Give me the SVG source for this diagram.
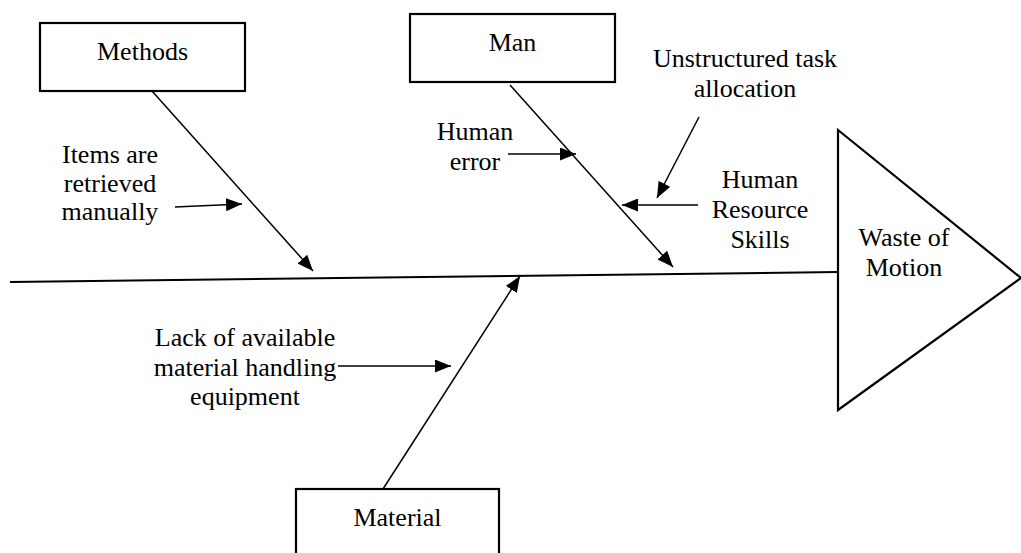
<svg xmlns="http://www.w3.org/2000/svg" width="1021" height="553" viewBox="0 0 1021 553" font-family="'Liberation Serif', Tinos, 'Times New Roman', 'DejaVu Serif', serif">
  <style>
    .box { fill: #fff; stroke: #000; stroke-width: 2.2; }
    .spine { fill: none; stroke: #000; stroke-width: 2; }
    .bone { fill: none; stroke: #000; stroke-width: 1.5; marker-end: url(#head); }
    .lbl { font-family: 'Liberation Serif', Tinos, 'Times New Roman', 'DejaVu Serif', serif; font-size: 26px; fill: #000; text-anchor: middle; }
  </style>
  <defs>
    <marker id="head" markerUnits="userSpaceOnUse" markerWidth="16" markerHeight="13" refX="16" refY="6.5" orient="auto">
      <path d="M0,0 L16,6.5 L0,13 z" fill="#000"/>
    </marker>
  </defs>

  <rect width="1021" height="553" fill="#fff"/>

  <!-- backbone and bones -->
  <g id="connectors">
    <line class="spine" x1="10" y1="282" x2="838" y2="272"/>
    <line class="bone" x1="152" y1="91" x2="313" y2="271"/>
    <line class="bone" x1="510" y1="85" x2="673" y2="267"/>
    <line class="bone" x1="383" y1="489" x2="520" y2="276"/>
    <line class="bone" x1="175" y1="207" x2="242" y2="204"/>
    <line class="bone" x1="508" y1="154" x2="576" y2="154"/>
    <line class="bone" x1="699" y1="117" x2="657" y2="198"/>
    <line class="bone" x1="698" y1="205" x2="622" y2="205"/>
    <line class="bone" x1="338" y1="366" x2="451" y2="366"/>
  </g>

  <!-- category boxes -->
  <g id="methods">
    <rect class="box" x="40" y="23" width="205" height="68"/>
    <text class="lbl" x="142.5" y="60">Methods</text>
  </g>
  <g id="man">
    <rect class="box" x="410" y="14" width="205" height="68"/>
    <text class="lbl" x="512.5" y="51">Man</text>
  </g>
  <g id="material">
    <rect class="box" x="296" y="489" width="203" height="80"/>
    <text class="lbl" x="397.5" y="526">Material</text>
  </g>

  <!-- effect head -->
  <g id="effect">
    <path d="M838,130 L1021,278 L838,410 z" fill="#fff" stroke="#000" stroke-width="2.2" stroke-linejoin="miter"/>
    <text class="lbl" x="904" y="246">Waste of</text>
    <text class="lbl" x="904" y="276">Motion</text>
  </g>

  <!-- cause labels -->
  <g id="items-retrieved">
    <text class="lbl" x="110" y="163">Items are</text>
    <text class="lbl" x="110" y="192">retrieved</text>
    <text class="lbl" x="110" y="220">manually</text>
  </g>
  <g id="human-error">
    <text class="lbl" x="475" y="140">Human</text>
    <text class="lbl" x="475" y="170">error</text>
  </g>
  <g id="task-allocation">
    <text class="lbl" x="745" y="67">Unstructured task</text>
    <text class="lbl" x="745" y="97">allocation</text>
  </g>
  <g id="hr-skills">
    <text class="lbl" x="760" y="188">Human</text>
    <text class="lbl" x="760" y="218">Resource</text>
    <text class="lbl" x="760" y="248">Skills</text>
  </g>
  <g id="handling-equipment">
    <text class="lbl" x="245" y="346">Lack of available</text>
    <text class="lbl" x="245" y="376">material handling</text>
    <text class="lbl" x="245" y="405">equipment</text>
  </g>
</svg>
